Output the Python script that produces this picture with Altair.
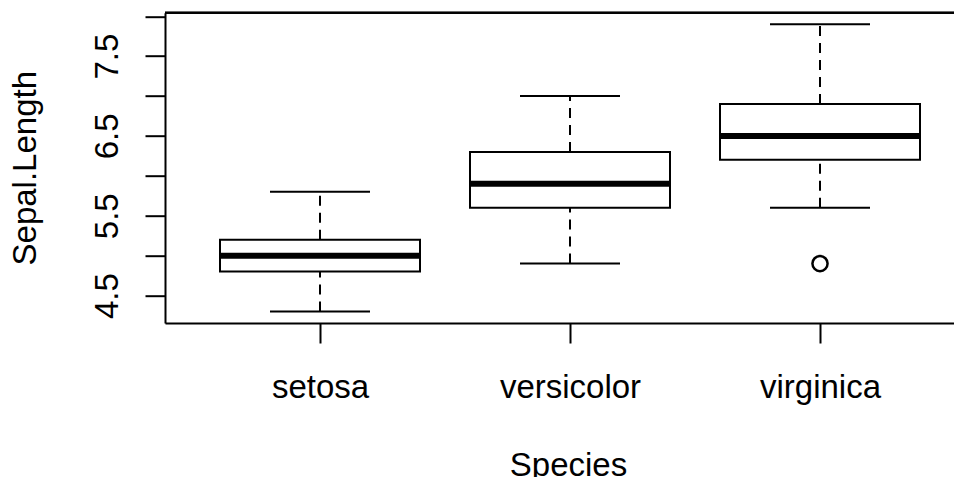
import altair as alt
import pandas as pd

species = ["setosa", "versicolor", "virginica"]
positions = [1, 2, 3]
whisker_low = [4.3, 4.9, 5.6]
q1 = [4.8, 5.6, 6.2]
median = [5.0, 5.9, 6.5]
q3 = [5.2, 6.3, 6.9]
whisker_high = [5.8, 7.0, 7.9]

outlier_species = ["virginica"]
outlier_pos = [3]
outlier_values = [4.9]

y_ticks = [4.5, 5.0, 5.5, 6.0, 6.5, 7.0, 7.5, 8.0]

df = pd.DataFrame({
    "species": species, "pos": positions, "low": whisker_low, "q1": q1,
    "median": median, "q3": q3, "high": whisker_high,
})
out_df = pd.DataFrame({"species": outlier_species, "pos": outlier_pos, "value": outlier_values})

W = 789
H = 310.3
FONT = "Liberation Sans"
FS = 33

xscale = alt.Scale(domain=[0.38, 0.38 + W / 250], nice=False, zero=False)
yscale = alt.Scale(domain=[4.156, 8.044], nice=False, zero=False)

label_expr_x = "[" + ", ".join("'%s'" % s for s in species) + "][datum.value - 1]"

xaxis = alt.Axis(
    values=positions, labelExpr=label_expr_x, grid=False,
    tickSize=20, tickWidth=2, tickColor="black",
    domainColor="black", domainWidth=2,
    labelFont=FONT, labelFontSize=FS, labelColor="black", labelAngle=0,
    labelAlign="center", labelBaseline="alphabetic", labelPadding=54,
    labelFlush=False, labelOverlap=False,
    title="Species", titleFont=FONT, titleFontSize=FS, titleFontWeight="normal",
    titleColor="black", titleX=403, titleY=152, titleAlign="center",
    titleBaseline="alphabetic",
)
yaxis = alt.Axis(
    values=y_ticks, format=".1f",
    labelExpr="(datum.value * 2) % 2 == 1 ? datum.label : ''",
    grid=False, tickSize=20, tickWidth=2, tickColor="black",
    domainColor="black", domainWidth=2,
    labelFont=FONT, labelFontSize=FS, labelColor="black", labelAngle=270,
    labelAlign="center", labelBaseline="alphabetic", labelPadding=28,
    labelFlush=False, labelOverlap=False,
    title="Sepal.Length", titleFont=FONT, titleFontSize=FS, titleFontWeight="normal",
    titleColor="black", titleAngle=270, titleX=-130, titleY=155,
    titleAlign="center", titleBaseline="alphabetic",
)

base = alt.Chart(df).transform_calculate(
    left="datum.pos - 0.4", right="datum.pos + 0.4",
    capl="datum.pos - 0.2", capr="datum.pos + 0.2",
)

whisk_lo = base.mark_rule(color="black", strokeWidth=2, strokeDash=[10, 7]).encode(
    x=alt.X("pos:Q", scale=xscale, axis=xaxis),
    y=alt.Y("low:Q", scale=yscale, axis=yaxis),
    y2="q1:Q",
)
whisk_hi = base.mark_rule(color="black", strokeWidth=2, strokeDash=[10, 7]).encode(
    x=alt.X("pos:Q", scale=xscale, axis=xaxis),
    y=alt.Y("q3:Q", scale=yscale, axis=yaxis),
    y2="high:Q",
)
cap_lo = base.mark_rule(color="black", strokeWidth=2).encode(
    x=alt.X("capl:Q", scale=xscale, axis=xaxis), x2="capr:Q",
    y=alt.Y("low:Q", scale=yscale, axis=yaxis),
)
cap_hi = base.mark_rule(color="black", strokeWidth=2).encode(
    x=alt.X("capl:Q", scale=xscale, axis=xaxis), x2="capr:Q",
    y=alt.Y("high:Q", scale=yscale, axis=yaxis),
)
box = base.mark_rect(fill="white", stroke="black", strokeWidth=2).encode(
    x=alt.X("left:Q", scale=xscale, axis=xaxis), x2="right:Q",
    y=alt.Y("q1:Q", scale=yscale, axis=yaxis), y2="q3:Q",
)
med = base.mark_rule(color="black", strokeWidth=6).encode(
    x=alt.X("left:Q", scale=xscale, axis=xaxis), x2="right:Q",
    y=alt.Y("median:Q", scale=yscale, axis=yaxis),
)
outl = alt.Chart(out_df).mark_point(filled=False, color="black", strokeWidth=2.5, size=230, opacity=1).encode(
    x=alt.X("pos:Q", scale=xscale, axis=xaxis),
    y=alt.Y("value:Q", scale=yscale, axis=yaxis),
)
top = alt.Chart(df).mark_rule(color="black", strokeWidth=2).encode(
    x=alt.value(0), x2=alt.value(W), y=alt.value(0),
)

chart = alt.layer(whisk_lo, whisk_hi, cap_lo, cap_hi, box, med, outl, top).properties(
    width=W, height=H,
    autosize=alt.AutoSizeParams(type="none"),
    padding={"left": 157, "top": 4.7, "right": 0, "bottom": 154},
).configure_view(stroke=None).configure(background="white")

chart.save("out.html", embed_options={"renderer": "svg", "actions": False})
